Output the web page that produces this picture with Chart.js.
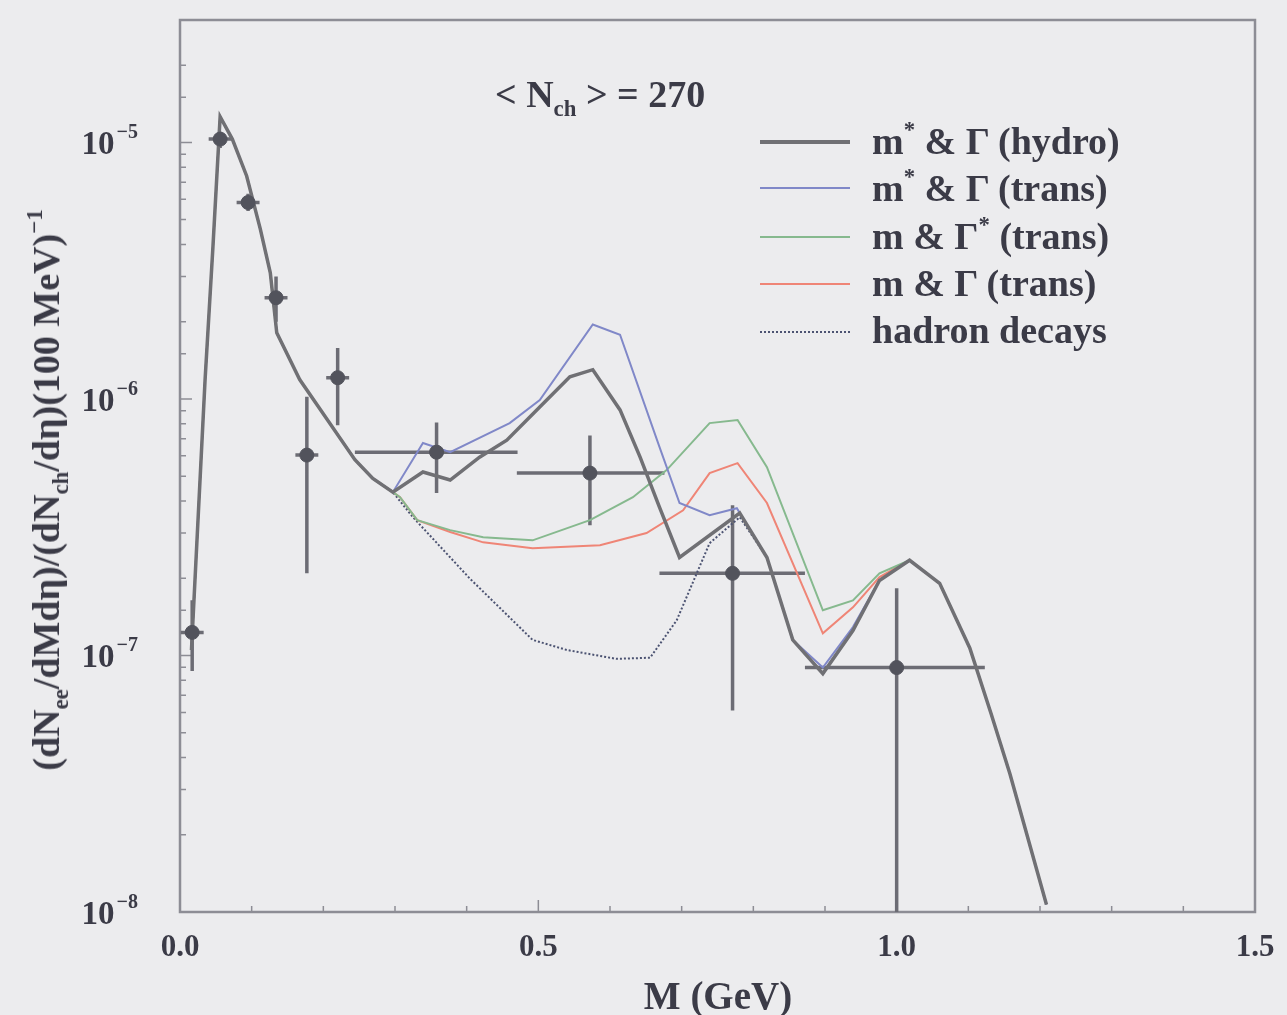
<!DOCTYPE html>
<html>
<head>
<meta charset="utf-8">
<script src="https://cdn.jsdelivr.net/npm/chart.js@4.4.1/dist/chart.umd.min.js"></script>
<style>
  body { margin: 0; background: #ececee; }
  #wrap { position: relative; width: 1287px; height: 1015px; font-family: 'Liberation Serif', 'DejaVu Serif', serif; font-weight: bold; color: #3b3b47; }
  #wrap canvas { position: absolute; left: 0; top: 0; }
  .lbl { position: absolute; white-space: nowrap; line-height: 1; }
  .key { position: absolute; left: 760px; width: 90px; height: 0; }
  sup, sub { font-size: 60%; line-height: 0; position: relative; vertical-align: baseline; }
  sup { top: -0.75em; }
  sub { top: 0.4em; }
</style>
</head>
<body>
<div id="wrap">
  <canvas id="chart" width="1287" height="1015"></canvas>

  <div class="lbl" style="left:495px; top:75px; font-size:38px;">&lt; N<sub>ch</sub> &gt; = 270</div>

  <div class="key" style="top:140px; border-top:4px solid #707074;"></div>
  <div class="key" style="top:187px; border-top:2px solid #8088c8;"></div>
  <div class="key" style="top:236px; border-top:2px solid #86b98e;"></div>
  <div class="key" style="top:283px; border-top:2px solid #ef8576;"></div>
  <div class="key" style="top:331px; border-top:2px dotted #4c5372;"></div>
  <div class="lbl" style="left:872px; top:122px; font-size:38px;">m<sup>*</sup> &amp; &Gamma; (hydro)</div>
  <div class="lbl" style="left:872px; top:169px; font-size:38px;">m<sup>*</sup> &amp; &Gamma; (trans)</div>
  <div class="lbl" style="left:872px; top:217px; font-size:38px;">m &amp; &Gamma;<sup>*</sup> (trans)</div>
  <div class="lbl" style="left:872px; top:264px; font-size:38px;">m &amp; &Gamma; (trans)</div>
  <div class="lbl" style="left:872px; top:311px; font-size:38px;">hadron decays</div>

  <div class="lbl" style="left:718px; top:995px; font-size:39px; transform:translate(-50%,-50%);">M (GeV)</div>
  <div class="lbl" style="left:46px; top:490px; font-size:38px; transform:translate(-50%,-50%) rotate(-90deg);">(dN<sub>ee</sub>/dMd&eta;)/(dN<sub>ch</sub>/d&eta;)(100 MeV)<sup>&minus;1</sup></div>
</div>

<script>
// shared start of all model curves (M in GeV)
const commonM = [0.016, 0.035, 0.046, 0.056, 0.073, 0.093, 0.112, 0.126, 0.135, 0.167, 0.244, 0.269, 0.297];
const commonY = [1.05e-7, 1.19e-6, 3.93e-6, 1.26e-5, 1.03e-5, 7.4e-6, 4.6e-6, 3.1e-6, 1.81e-6, 1.19e-6, 5.8e-7, 4.9e-7, 4.33e-7];

// shared tail above the phi
const tailM = [1.018, 1.060, 1.102, 1.132, 1.158, 1.209];
const tailY = [2.35e-7, 1.91e-7, 1.07e-7, 5.9e-8, 3.46e-8, 1.07e-8];

const hydroM = [0.339, 0.377, 0.418, 0.456, 0.502, 0.544, 0.576, 0.614, 0.642, 0.669, 0.697, 0.781, 0.819, 0.855, 0.897, 0.939, 0.976];
const hydroY = [5.19e-7, 4.83e-7, 5.93e-7, 6.91e-7, 9.3e-7, 1.22e-6, 1.30e-6, 9.06e-7, 5.93e-7, 3.79e-7, 2.41e-7, 3.59e-7, 2.41e-7, 1.15e-7, 8.5e-8, 1.25e-7, 1.96e-7];

const transMassM = [0.339, 0.377, 0.460, 0.502, 0.576, 0.614, 0.669, 0.697, 0.739, 0.777, 0.819, 0.855, 0.897, 0.939, 0.976];
const transMassY = [6.73e-7, 6.2e-7, 8.05e-7, 9.9e-7, 1.95e-6, 1.78e-6, 6.5e-7, 3.93e-7, 3.52e-7, 3.75e-7, 2.41e-7, 1.15e-7, 8.97e-8, 1.29e-7, 1.96e-7];

const transWidthM = [0.307, 0.331, 0.377, 0.423, 0.492, 0.572, 0.632, 0.679, 0.739, 0.778, 0.819, 0.897, 0.939, 0.976];
const transWidthY = [4.14e-7, 3.37e-7, 3.08e-7, 2.89e-7, 2.81e-7, 3.37e-7, 4.14e-7, 5.28e-7, 8.05e-7, 8.28e-7, 5.42e-7, 1.5e-7, 1.64e-7, 2.09e-7];

const transVacM = [0.307, 0.331, 0.377, 0.423, 0.492, 0.586, 0.651, 0.702, 0.739, 0.778, 0.819, 0.897, 0.939, 0.976];
const transVacY = [4.14e-7, 3.37e-7, 3.03e-7, 2.76e-7, 2.62e-7, 2.69e-7, 3.0e-7, 3.68e-7, 5.14e-7, 5.62e-7, 3.93e-7, 1.22e-7, 1.54e-7, 2.02e-7];

const decaysM = [0.325, 0.404, 0.492, 0.540, 0.609, 0.656, 0.693, 0.739, 0.781, 0.819, 0.855, 0.897, 0.939, 0.976];
const decaysY = [3.46e-7, 2.0e-7, 1.15e-7, 1.05e-7, 9.7e-8, 9.8e-8, 1.37e-7, 2.74e-7, 3.46e-7, 2.41e-7, 1.15e-7, 8.5e-8, 1.25e-7, 1.96e-7];

// measured points with errors
const dataM   = [0.017, 0.056, 0.095, 0.134, 0.177, 0.220, 0.358, 0.572, 0.771, 1.000];
const dataY   = [1.23e-7, 1.03e-5, 5.83e-6, 2.48e-6, 6.04e-7, 1.21e-6, 6.2e-7, 5.14e-7, 2.09e-7, 8.97e-8];
const dataYHi = [1.64e-7, 1.1e-5, 6.3e-6, 3.0e-6, 1.02e-6, 1.58e-6, 8.1e-7, 7.2e-7, 3.85e-7, 1.83e-7];
const dataYLo = [8.7e-8, 9.5e-6, 5.4e-6, 2.0e-6, 2.09e-7, 7.9e-7, 4.3e-7, 3.22e-7, 6.1e-8, 5e-9];
const dataMLo = [0.001, 0.040, 0.079, 0.118, 0.161, 0.204, 0.244, 0.470, 0.669, 0.872];
const dataMHi = [0.033, 0.072, 0.111, 0.150, 0.193, 0.236, 0.471, 0.676, 0.872, 1.123];

const xTickLabels = ['0.0', '0.5', '1.0', '1.5'];
const yDecades = [1e-8, 1e-7, 1e-6, 1e-5];
const yTickExps = ['\u22128', '\u22127', '\u22126', '\u22125'];

const ink = '#3b3b47';
const serif = "'Liberation Serif', serif";

const toPoints = (ms, ys) => ms.map((m, i) => ({ x: m, y: ys[i] }));
const curve = (ms, ys) => toPoints(commonM.concat(ms, tailM), commonY.concat(ys, tailY));
const isDecade = v => Math.abs(Math.log10(v) - Math.round(Math.log10(v))) < 1e-6;

const lineSet = (label, ms, ys, color, width, dash) => ({
    type: 'line', label, data: curve(ms, ys),
    borderColor: color, borderWidth: width, borderDash: dash || [],
    pointRadius: 0, tension: 0, fill: false
});

const frameAndTicks = {
    id: 'frameAndTicks',
    beforeDatasetsDraw(chart) {
        const { ctx, chartArea: a, scales: { x, y } } = chart;
        ctx.save();
        ctx.strokeStyle = '#8d8d95';
        ctx.lineWidth = 1.5;
        ctx.beginPath();
        x.ticks.forEach(t => {
            const px = x.getPixelForValue(t.value);
            const major = Math.abs(t.value * 2 - Math.round(t.value * 2)) < 1e-6;
            ctx.moveTo(px, a.bottom); ctx.lineTo(px, a.bottom - (major ? 12 : 6));
        });
        y.ticks.forEach(t => {
            const py = y.getPixelForValue(t.value);
            ctx.moveTo(a.left, py); ctx.lineTo(a.left + (isDecade(t.value) ? 12 : 6), py);
        });
        ctx.stroke();
        ctx.lineWidth = 2.5;
        ctx.strokeRect(a.left, a.top, a.right - a.left, a.bottom - a.top);

        // y tick labels 10^n with a proper superscript
        ctx.fillStyle = ink;
        ctx.textBaseline = 'alphabetic';
        yDecades.forEach((d, i) => {
            const py = y.getPixelForValue(d);
            ctx.font = `bold 20px ${serif}`;
            ctx.textAlign = 'right';
            ctx.fillText(yTickExps[i], 138, py - 4);
            const ew = ctx.measureText(yTickExps[i]).width;
            ctx.font = `bold 33px ${serif}`;
            ctx.fillText('10', 138 - ew - 2, py + 12);
        });

        // error bars
        ctx.beginPath();
        ctx.rect(a.left, a.top, a.right - a.left, a.bottom - a.top);
        ctx.clip();
        ctx.strokeStyle = '#6c6c74';
        ctx.lineWidth = 3.5;
        ctx.beginPath();
        dataM.forEach((m, i) => {
            const px = x.getPixelForValue(m), py = y.getPixelForValue(dataY[i]);
            ctx.moveTo(px, y.getPixelForValue(dataYHi[i])); ctx.lineTo(px, y.getPixelForValue(dataYLo[i]));
            ctx.moveTo(x.getPixelForValue(dataMLo[i]), py); ctx.lineTo(x.getPixelForValue(dataMHi[i]), py);
        });
        ctx.stroke();
        ctx.restore();
    }
};

new Chart(document.getElementById('chart'), {
    type: 'line',
    data: {
        datasets: [
            { type: 'scatter', label: 'data', data: toPoints(dataM, dataY), pointRadius: 7,
              pointBackgroundColor: '#52535c', pointBorderColor: '#52535c', showLine: false },
            lineSet('m* & \u0393 (hydro)', hydroM, hydroY, '#707074', 3.5),
            lineSet('m* & \u0393 (trans)', transMassM, transMassY, '#8088c8', 2),
            lineSet('m & \u0393* (trans)', transWidthM, transWidthY, '#86b98e', 2),
            lineSet('m & \u0393 (trans)', transVacM, transVacY, '#ef8576', 2),
            lineSet('hadron decays', decaysM, decaysY, '#4c5372', 2, [2, 2])
        ]
    },
    options: {
        responsive: false,
        animation: false,
        layout: { padding: { top: 20, right: 32, left: 0, bottom: 0 } },
        plugins: { legend: { display: false }, tooltip: { enabled: false } },
        scales: {
            x: {
                type: 'linear', min: 0, max: 1.5,
                grid: { display: false }, border: { display: false },
                ticks: {
                    stepSize: 0.1, autoSkip: false, maxRotation: 0, padding: 9,
                    font: { family: serif, size: 31, weight: 'bold' }, color: ink,
                    callback: v => Math.abs(v * 2 - Math.round(v * 2)) < 1e-6 ? xTickLabels[Math.round(v * 2)] : ''
                },
                afterFit: s => { s.height = 103; s.paddingLeft = 0; s.paddingRight = 0; }
            },
            y: {
                type: 'logarithmic', min: 1e-8, max: 3.0e-5,
                grid: { display: false }, border: { display: false },
                ticks: { display: false },
                afterFit: s => { s.width = 180; s.paddingTop = 0; s.paddingBottom = 0; }
            }
        }
    },
    plugins: [frameAndTicks]
});
</script>
</body>
</html>
